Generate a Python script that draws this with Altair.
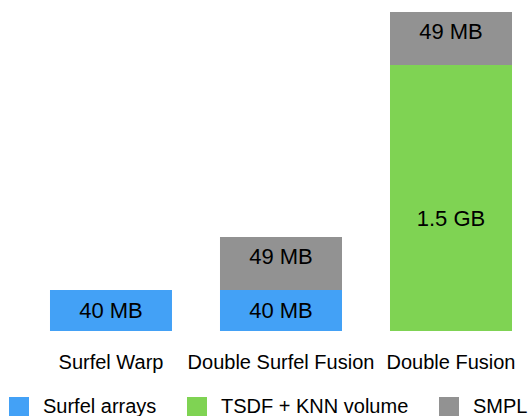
import altair as alt
import pandas as pd

categories = ["Surfel Warp", "Double Surfel Fusion", "Double Fusion"]
series = ["Surfel arrays", "TSDF + KNN volume", "SMPL"]
colors = ["#43A1F6", "#7FD353", "#929292"]

# visual bar segment heights (chart is not drawn to scale)
surfel_arrays = [41, 41, 0]
tsdf_knn = [0, 0, 266]
smpl = [0, 53, 53]

surfel_labels = ["40 MB", "40 MB", ""]
tsdf_labels = ["", "", "1.5 GB"]
smpl_labels = ["", "49 MB", "49 MB"]

rows = []
for i, c in enumerate(categories):
    for k, (vals, labs) in enumerate([(surfel_arrays, surfel_labels),
                                       (tsdf_knn, tsdf_labels),
                                       (smpl, smpl_labels)]):
        if vals[i] > 0:
            rows.append({"category": c, "series": series[k], "order": k,
                         "value": vals[i], "label": labs[i]})
df = pd.DataFrame(rows)

FONT = "Liberation Sans"

x_enc = alt.X("category:N", sort=categories, title=None,
              scale=alt.Scale(paddingInner=0.28235, paddingOuter=0.2029, align=0.7246),
              axis=alt.Axis(domain=False, ticks=False, labelAngle=0, labelFontSize=20,
                            labelFont=FONT, labelColor="#000000", labelPadding=21,
                            labelBaseline="top", labelLimit=400))

base = alt.Chart(df)

bars = base.mark_bar().encode(
    x=x_enc,
    y=alt.Y("value:Q", stack="zero", title=None, axis=None,
            scale=alt.Scale(domain=[0, 331], nice=False)),
    color=alt.Color("series:N", sort=series,
                    scale=alt.Scale(domain=series, range=colors),
                    legend=alt.Legend(title=None, orient="none", legendX=9, legendY=397,
                                      direction="horizontal", symbolType="square",
                                      symbolSize=400, symbolStrokeWidth=0, labelFont=FONT,
                                      labelFontSize=20, labelColor="#000000", labelOffset=14,
                                      columnPadding=30, padding=0, labelLimit=400)),
    order=alt.Order("order:Q"),
)

stacked = base.transform_stack(
    stack="value", groupby=["category"], sort=[alt.SortField("order")],
    as_=["y0", "y1"]
).transform_calculate(mid="(datum.y0 + datum.y1) / 2")

def text_layer(name, dy):
    return stacked.transform_filter(alt.datum.series == name).mark_text(
        font=FONT, fontSize=22, color="#000000", baseline="middle", dy=dy
    ).encode(
        x=alt.X("category:N", sort=categories),
        y=alt.Y("mid:Q"),
        text="label:N",
    )

chart = alt.layer(
    bars,
    text_layer("Surfel arrays", 0),
    text_layer("SMPL", -7),
    text_layer("TSDF + KNN volume", 21),
).properties(
    width=531, height=331,
    autosize=alt.AutoSizeParams(type="none"),
    padding={"left": 0, "top": 0, "right": 0, "bottom": 85},
).configure_view(stroke=None).configure_axis(grid=False)

chart.save("out.html", embed_options={"renderer": "svg", "actions": False})
